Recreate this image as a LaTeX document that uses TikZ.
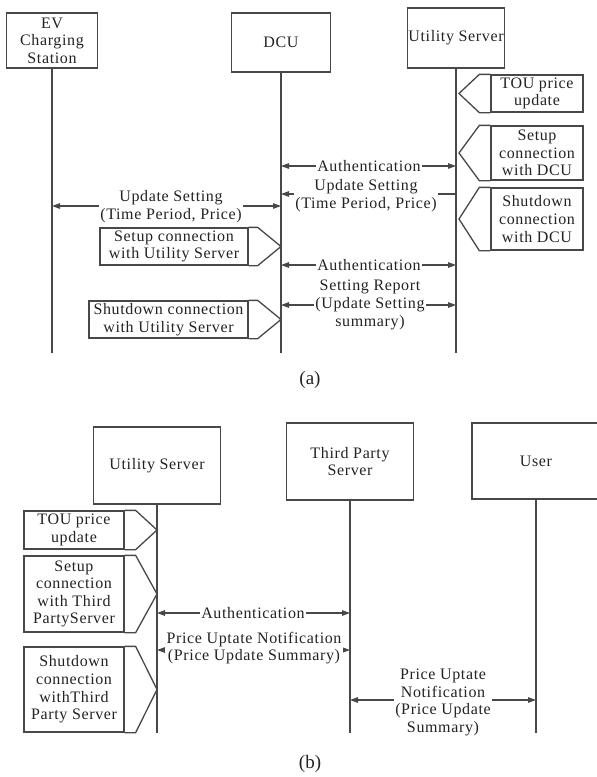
\documentclass[tikz,border=0pt]{standalone}
\usepackage{fontspec}
\setmainfont{Liberation Serif}[LetterSpace=4]
\newfontfamily\capfont{Liberation Serif}
\usetikzlibrary{arrows.meta}
\definecolor{ink}{RGB}{72,72,72}
\definecolor{txt}{RGB}{35,35,35}

\tikzset{
  lbl/.style={font=\fontsize{16}{17.6}\selectfont, text=txt, align=center, inner sep=0pt},
  actor/.style={draw=ink, line width=1.4pt, fill=white, lbl},
  life/.style={draw=ink, line width=1.4pt},
  tagbox/.style={draw=ink, line width=1.3pt, fill=white, lbl},
  tagtip/.style={draw=ink, line width=1.3pt, line join=miter},
  tipa/.tip={Triangle[length=8pt,width=5.5pt]},
  msg/.style={draw=ink, line width=1.2pt, tipa-tipa},
  msgl/.style={draw=ink, line width=1.2pt, tipa-},
  mlabel/.style={lbl, fill=white, inner xsep=1.5pt, inner ysep=0.5pt},
  caption/.style={font=\capfont\fontsize{19}{21}\selectfont, text=txt, inner sep=0pt}
}

\begin{document}
\begin{tikzpicture}[x=1pt, y=-1pt]
\useasboundingbox[fill=white] (0,0) rectangle (597,777);

% ---------------- (a) EV charging / DCU / utility server ----------------
\node[actor, minimum width=91pt, minimum height=55pt] (ev)  at (52,40.5)  {EV\\Charging\\Station};
\node[actor, minimum width=99pt, minimum height=59pt] (dcu) at (281,42.5) {DCU};
\node[actor, minimum width=97pt, minimum height=60pt] (us)  at (456,38)   {Utility Server};

\coordinate (evend)  at (52,353);
\coordinate (dcuend) at (281,353);
\coordinate (usend)  at (456,353);
\coordinate (ustip)  at (459,0);

\draw[life] (ev)  -- (evend);
\draw[life] (dcu) -- (dcuend);
\draw[life] (us)  -- (usend);

% activities on the utility server side
\node[tagbox, minimum width=92pt, minimum height=37pt] (tou)  at (537,93.5)  {TOU price\\update};
\node[tagbox, minimum width=92pt, minimum height=54pt] (sdcu) at (537,153)   {Setup\\connection\\with DCU};
\node[tagbox, minimum width=92pt, minimum height=62pt] (xdcu) at (537,219)   {Shutdown\\connection\\with DCU};
\foreach \t in {tou,sdcu,xdcu}{
  \draw[tagtip] (\t.north west) -- ([xshift=-11pt]\t.north west) -- (\t.west -| ustip)
                -- ([xshift=-11pt]\t.south west) -- (\t.south west);
}

% activities on the DCU side
\node[tagbox, minimum width=148pt, minimum height=37pt] (sus) at (174,246.5)  {Setup connection\\with Utility Server};
\node[tagbox, minimum width=159pt, minimum height=37pt] (xus) at (168.5,319.5) {Shutdown connection\\with Utility Server};
\foreach \t in {sus,xus}{
  \draw[tagtip] (\t.north east) -- ([xshift=9pt]\t.north east) -- (\t.east -| dcuend)
                -- ([xshift=9pt]\t.south east) -- (\t.south east);
}

% messages
\coordinate (a1d) at (281,166); \coordinate (a1u) at (456,166);
\draw[msg] (a1d) -- (a1u);
\node[mlabel] (a1l) at (369,166) {Authentication};

\coordinate (u1d) at (281,194); \coordinate (u1u) at (456,194);
\draw[msgl] (u1d) -- (u1u);
\node[mlabel] (u1l) at (366,195.5) {Update Setting\\(Time Period, Price)};

\coordinate (u2e) at (52,206); \coordinate (u2d) at (281,206);
\draw[msg] (u2e) -- (u2d);
\node[mlabel] (u2l) at (171,206.5) {Update Setting\\(Time Period, Price)};

\coordinate (a2d) at (281,265); \coordinate (a2u) at (456,265);
\draw[msg] (a2d) -- (a2u);
\node[mlabel] (a2l) at (369,265) {Authentication};

\coordinate (r1d) at (281,305); \coordinate (r1u) at (456,305);
\draw[msg] (r1d) -- (r1u);
\node[mlabel] (r1l) at (370,305) {Setting Report\\(Update Setting\\summary)};

\node[caption] (capa) at (310,380) {(a)};

% ---------------- (b) utility server / third party server / user ----------------
\node[actor, minimum width=127pt, minimum height=77pt] (us2)  at (157,465.5) {Utility Server};
\node[actor, minimum width=127pt, minimum height=77pt] (tps)  at (350,461.5) {Third Party\\Server};
\node[actor, minimum width=128pt, minimum height=76pt] (user) at (536,461)   {User};

\coordinate (us2end)  at (157,733);
\coordinate (tpsend)  at (350,733);
\coordinate (userend) at (536,733);

\draw[life] (us2)  -- (us2end);
\draw[life] (tps)  -- (tpsend);
\draw[life] (user) -- (userend);

\node[tagbox, minimum width=100pt, minimum height=38pt] (tou2) at (74,530)  {TOU price\\update};
\node[tagbox, minimum width=100pt, minimum height=76pt] (stp)  at (74,594)  {Setup\\connection\\with Third\\PartyServer};
\node[tagbox, minimum width=100pt, minimum height=85pt] (xtp)  at (74,689.5) {Shutdown\\connection\\withThird\\Party Server};
\foreach \t in {tou2,stp,xtp}{
  \draw[tagtip] (\t.north east) -- ([xshift=11pt]\t.north east) -- (\t.east -| us2end)
                -- ([xshift=11pt]\t.south east) -- (\t.south east);
}

\coordinate (b1u) at (157,613); \coordinate (b1t) at (350,613);
\draw[msg] (b1u) -- (b1t);
\node[mlabel] (b1l) at (253,613) {Authentication};

\coordinate (b2u) at (157,650); \coordinate (b2t) at (350,650);
\draw[msg] (b2u) -- (b2t);
\node[mlabel] (b2l) at (254,648) {Price Uptate Notification\\(Price Update Summary)};

\coordinate (b3t) at (350,700); \coordinate (b3e) at (536,700);
\draw[msg] (b3t) -- (b3e);
\node[mlabel] (b3l) at (443,702.5) {Price Uptate\\Notification\\(Price Update\\Summary)};

\node[caption] (capb) at (310,764) {(b)};
\end{tikzpicture}
\end{document}
